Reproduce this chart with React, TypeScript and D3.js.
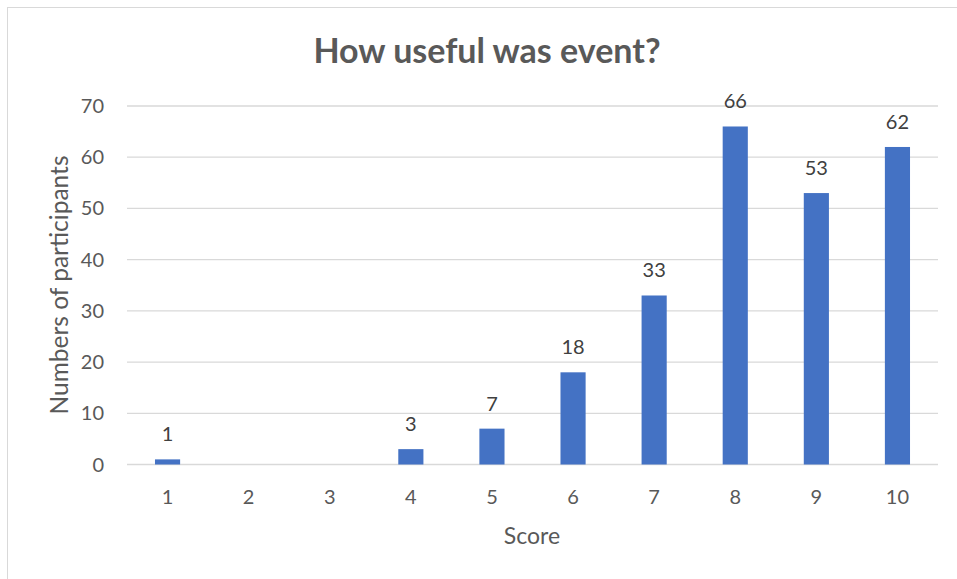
import React from "react";
import * as d3 from "d3";

const categories = ["1", "2", "3", "4", "5", "6", "7", "8", "9", "10"];
const values = [1, 0, 0, 3, 7, 18, 33, 66, 53, 62];
const yTicks = [0, 10, 20, 30, 40, 50, 60, 70];
const title = "How useful was event?";
const xTitle = "Score";
const yTitle = "Numbers of participants";

export default function App() {
  const W = 957, H = 579;
  const left = 127, right = 938, top = 106, bottom = 464.5;
  const x = d3.scaleBand<string>().domain(categories).range([left, right]).paddingInner(0.69).paddingOuter(0.345);
  const y = d3.scaleLinear().domain([0, 70]).range([bottom, top]);
  const font = "Lato, 'Open Sans', sans-serif";
  return (
    <svg width={W} height={H} style={{ position: "absolute", left: 0, top: 0 }} fontFamily={font}>
      <rect x={0} y={0} width={W} height={H} fill="#fff" />
      <rect x={7.5} y={7.5} width={W + 10} height={H + 10} fill="none" stroke="#d9d9d9" strokeWidth={1} />
      <text x={487} y={63} textAnchor="middle" fontSize={34} fontWeight="bold" fill="#595959">{title}</text>
      {yTicks.map((t) => (
        <g key={t}>
          <line x1={left} x2={right} y1={y(t)} y2={y(t)} stroke="#d9d9d9" strokeWidth={1.3} />
          <text x={104} y={y(t)} dy="0.35em" textAnchor="end" fontSize={20} fill="#595959">{t}</text>
        </g>
      ))}
      {values.map((v, i) => (
        <g key={i}>
          {v > 0 && (
            <rect x={x(categories[i])!} y={y(v)} width={x.bandwidth()} height={bottom - y(v)} fill="#4472C4" />
          )}
          {v > 0 && (
            <text x={x(categories[i])! + x.bandwidth() / 2} y={y(v) - 18} textAnchor="middle" fontSize={20} fill="#404040">{v}</text>
          )}
          <text x={x(categories[i])! + x.bandwidth() / 2} y={504} textAnchor="middle" fontSize={20} fill="#595959">{categories[i]}</text>
        </g>
      ))}
      <text x={532} y={544} textAnchor="middle" fontSize={23} fill="#595959">{xTitle}</text>
      <text transform={`translate(68,285) rotate(-90)`} textAnchor="middle" fontSize={24.5} fill="#595959">{yTitle}</text>
    </svg>
  );
}
